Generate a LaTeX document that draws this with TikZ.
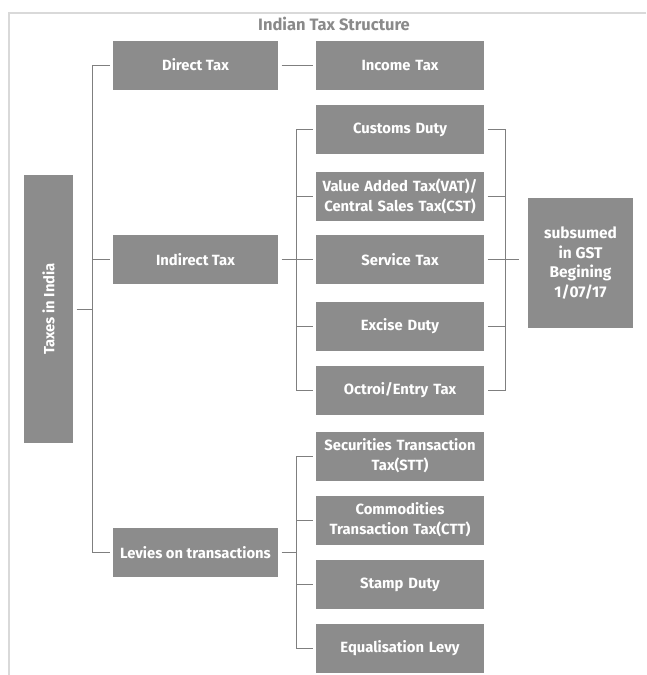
\documentclass[tikz,border=0pt]{standalone}
\usepackage{fontspec}
\setmainfont{Fira Sans}
\definecolor{boxgray}{HTML}{8C8C8C}
\definecolor{linegray}{HTML}{7F7F7F}
\definecolor{framegray}{HTML}{D9D9D9}
\definecolor{titlegray}{HTML}{8A8A8A}
\begin{document}
\begin{tikzpicture}[x=1pt,y=-1pt]
  \tikzstyle{every node}=[font=\bfseries\fontsize{14.8}{20}\selectfont]
  \tikzstyle{taxbox}=[fill=boxgray, text=white, minimum height=49pt, align=center, inner sep=2pt, outer sep=3.5pt]
  \tikzstyle{headbox}=[taxbox, minimum width=165pt]
  \tikzstyle{itembox}=[taxbox, minimum width=166pt, text width=164pt]
  \tikzstyle{link}=[draw=linegray, line width=1pt]

  \useasboundingbox (0,0) rectangle (646,675);
  \draw[framegray, line width=2pt] (646,12.5) -- (9,12.5) -- (9,675);

  \node [text=titlegray, font=\bfseries\fontsize{16.5}{20}\selectfont] (title) at (334,24) {Indian Tax Structure};

  \node [taxbox, minimum width=49pt, minimum height=268pt,
         label={[rotate=90,text=white]center:Taxes in India}] (india) at (48.5,309) {};

  \node [headbox] (direct) at (195.5,65) {Direct Tax};
  \node [headbox] (indirect) at (195.5,259.5) {Indirect Tax};
  \node [headbox] (levies) at (195.5,552.5) {Levies on transactions};

  \node [itembox] (income) at (400,65.5) {Income Tax};

  \node [itembox] (customs) at (400,129.5) {Customs Duty};
  \node [itembox] (vat) at (400,196.5) {Value Added Tax(VAT)/\\Central Sales Tax(CST)};
  \node [itembox] (service) at (400,259.5) {Service Tax};
  \node [itembox] (excise) at (400,326.5) {Excise Duty};
  \node [itembox] (octroi) at (400,390.5) {Octroi/Entry Tax};

  \node [itembox] (stt) at (400,456) {Securities Transaction\\Tax(STT)};
  \node [itembox] (ctt) at (400,520) {Commodities\\Transaction Tax(CTT)};
  \node [itembox] (stamp) at (400,584.5) {Stamp Duty};
  \node [itembox] (equal) at (400,648) {Equalisation Levy};

  \node [taxbox, minimum width=105pt, minimum height=130pt,
         font=\bfseries\fontsize{15.5}{19.5}\selectfont] (gst) at (580.5,263) {subsumed\\in GST\\Begining\\1/07/17};

  \coordinate (fork1) at (92,0);
  \coordinate (fork2) at (296,0);
  \coordinate (fork3) at (505,0);

  \draw[link] (india.east) -- (india.east -| fork1);
  \draw[link] (direct.west) -- (direct.west -| fork1) |- (levies.west);
  \draw[link] (indirect.west) -- (indirect.west -| fork1);

  \draw[link] (direct.east) -- (direct.east -| income.west);

  \draw[link] (indirect.east) -- (indirect.east -| fork2);
  \draw[link] (customs.west) -- (customs.west -| fork2) |- (octroi.west);
  \foreach \n in {vat,service,excise}
    \draw[link] (\n.west) -- (\n.west -| fork2);

  \draw[link] (customs.east) -- (customs.east -| fork3) |- (octroi.east);
  \foreach \n in {vat,service,excise}
    \draw[link] (\n.east) -- (\n.east -| fork3);
  \draw[link, shorten >=5.5pt] (service.east -| fork3) -- (service.east -| gst.west);

  \draw[link] (levies.east) -- (levies.east -| fork2);
  \draw[link] (stt.west) -- (stt.west -| fork2) |- (equal.west);
  \foreach \n in {ctt,stamp}
    \draw[link] (\n.west) -- (\n.west -| fork2);
\end{tikzpicture}
\end{document}
